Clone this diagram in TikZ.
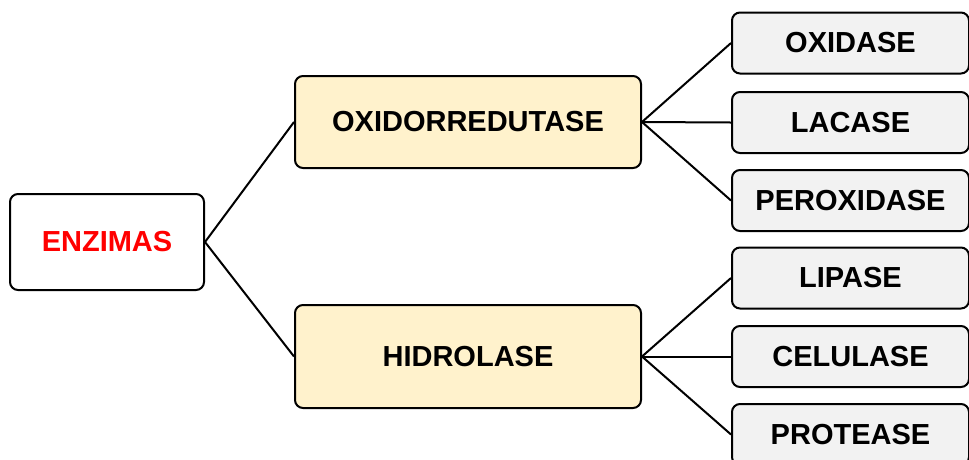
\documentclass[tikz,border=0pt]{standalone}
\usepackage{fontspec}
\setmainfont{Liberation Sans}
\definecolor{classfill}{HTML}{FFF2CC}
\definecolor{leaffill}{HTML}{F2F2F2}
\definecolor{rootred}{HTML}{FF0000}
\begin{document}
\begin{tikzpicture}[x=1pt,y=-1pt,
  box/.style={draw=black, line width=2pt, rounded corners=8pt, inner sep=0pt,
    font=\fontsize{29}{33}\selectfont\bfseries, align=center},
  rootbox/.style={box, fill=white, text=rootred, minimum width=194pt, minimum height=96pt},
  classbox/.style={box, fill=classfill, minimum width=346pt},
  leafbox/.style={box, fill=leaffill, minimum width=237pt, minimum height=61pt},
  link/.style={draw=black, line width=2pt}]
\useasboundingbox (0,0) rectangle (969,459);

% root
\node[rootbox] (enz) at (107,242) {ENZIMAS};

% enzyme classes
\node[classbox, minimum height=92pt] (oxi) at (468,122) {OXIDORREDUTASE};
\node[classbox, minimum height=103pt] (hid) at (468,356.5) {HIDROLASE};

% individual enzymes
\node[leafbox] (oxidase) at (850.5,43) {OXIDASE};
\node[leafbox] (lacase) at (850.5,122.5) {LACASE};
\node[leafbox] (perox) at (850.5,200.5) {PEROXIDASE};
\node[leafbox] (lipase) at (850.5,278) {LIPASE};
\node[leafbox] (celul) at (850.5,356.5) {CELULASE};
\node[leafbox] (prot) at (850.5,434.5) {PROTEASE};

% connectors
\path[link] (enz.east) -- (oxi.west);
\path[link] (enz.east) -- (hid.west);
\path[link] (oxi.east) -- (oxidase.west);
\path[link] (oxi.east) -- (lacase.west);
\path[link] (oxi.east) -- (perox.west);
\path[link] (hid.east) -- (lipase.west);
\path[link] (hid.east) -- (celul.west);
\path[link] (hid.east) -- (prot.west);
\end{tikzpicture}
\end{document}
